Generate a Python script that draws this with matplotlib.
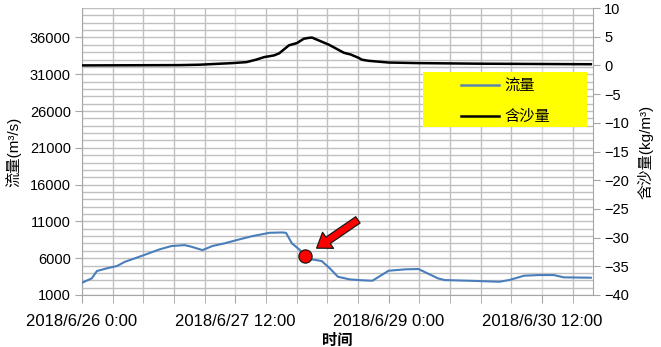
import matplotlib
matplotlib.use('Agg')
import matplotlib.pyplot as plt
from matplotlib.ticker import MultipleLocator, FixedLocator
from matplotlib.patches import Rectangle

# ---- data (hours since 2018/6/26 0:00) ----
flow_hours = [0, 2.3, 3.5, 5.8, 8.2, 10.1, 12.4, 15.2, 18.2, 21.0, 24.1, 25.7, 28.3,
              30.6, 33.4, 36.9, 40.0, 44.0, 47.0, 47.9, 49.3, 51.0, 52.4, 54.0, 56.3,
              58.2, 60.1, 62.8, 65.7, 68.2, 72.0, 76.0, 79.0, 83.6, 85.2, 93.0, 98.0,
              100.3, 103.8, 107.3, 110.8, 113.1, 119.5]
flow_values = [2670, 3260, 4256, 4620, 4934, 5520, 5980, 6560, 7200, 7650, 7780, 7560, 7100,
               7650, 8010, 8550, 9000, 9450, 9500, 9450, 8010, 7200, 6300, 5840, 5610,
               4620, 3480, 3130, 3000, 2940, 4300, 4490, 4530, 3260, 3030, 2900, 2800,
               3030, 3620, 3710, 3710, 3400, 3350]
sed_hours = [0, 22.9, 27.6, 35.3, 38.6, 40.9, 42.8, 45.1, 46.3, 48.6, 50.5, 52.1, 53.3,
             54.0, 55.6, 58.0, 61.5, 63.1, 65.0, 65.7, 67.3, 72.0, 79.0, 93.1, 119.5]
sed_values = [0.0, 0.05, 0.12, 0.4, 0.57, 1.0, 1.45, 1.74, 2.1, 3.5, 3.9, 4.65, 4.8,
              4.85, 4.35, 3.6, 2.2, 1.9, 1.3, 1.0, 0.8, 0.5, 0.4, 0.3, 0.2]
highlight_index = 22
series_names = ['流量', '含沙量']
tick_hours = [0, 36, 72, 108]
tick_labels = ['2018/6/26 0:00', '2018/6/27 12:00', '2018/6/29 0:00', '2018/6/30 12:00']

LAT = ['Liberation Sans', 'Noto Sans CJK SC', 'DejaVu Sans']
CJK = ['Noto Sans CJK SC', 'DejaVu Sans']
plt.rcParams['font.family'] = LAT

W, H = 661, 347
fig = plt.figure(figsize=(W / 100, H / 100), dpi=100)
L, R, T, B = 82, 593, 8, 295
ax = fig.add_axes([L / W, (H - B) / H, (R - L) / W, (B - T) / H])
ax2 = ax.twinx()

spine_c = '#a6a6a6'
# left axis
ax.set_xlim(0, 120)
ax.set_ylim(1000, 40000)
ax.yaxis.set_major_locator(FixedLocator(list(range(1000, 40000, 5000))))
ax.yaxis.set_minor_locator(MultipleLocator(1000))
ax.xaxis.set_major_locator(FixedLocator(tick_hours))
ax.xaxis.set_minor_locator(MultipleLocator(7.2))
ax.set_xticklabels(tick_labels)
ax.grid(which='both', axis='y', color='#c0c0c0', linewidth=1.0)
ax.grid(which='minor', axis='x', color='#c0c0c0', linewidth=1.0)
ax.grid(which='major', axis='x', color='#dadada', linewidth=1.0)
ax.set_axisbelow(True)
for s in ['top', 'right']:
    ax.spines[s].set_visible(False)
for s in ['left', 'bottom']:
    ax.spines[s].set_color(spine_c)
ax.tick_params(axis='y', which='major', direction='out', length=5, color=spine_c,
               labelsize=10.5, pad=3)
ax.tick_params(axis='y', which='minor', length=0)
ax.tick_params(axis='x', which='both', direction='out', length=6, color=spine_c,
               labelsize=12, pad=8)

ax.plot(flow_hours, flow_values, color='#4a7ebb', linewidth=1.5, label=series_names[0],
        zorder=3)

# right axis
ax2.set_ylim(-40, 10)
ax2.yaxis.set_major_locator(MultipleLocator(5))
for s in ['top', 'left', 'bottom']:
    ax2.spines[s].set_visible(False)
ax2.spines['right'].set_color(spine_c)
ax2.tick_params(axis='y', direction='out', length=5, color=spine_c, labelsize=10.5, pad=3)
ax2.plot(sed_hours, sed_values, color='black', linewidth=1.8, label=series_names[1])

# labels
ax.set_ylabel('流量(m³/s)', fontsize=11, family=LAT, labelpad=6)
ax2.set_ylabel('含沙量(kg/m³)', fontsize=11, family=LAT, rotation=90, labelpad=6)
ax.set_xlabel('时间', fontsize=11, family=CJK, fontweight='bold', labelpad=2)

# legend box
ax2.add_patch(Rectangle((0.667, 0.585), 0.321, 0.192, transform=ax2.transAxes,
                        facecolor='#ffff00', edgecolor='none', zorder=4))
h1, = ax.plot([], [], color='#5b87b0', linewidth=1.8)
h2, = ax2.plot([], [], color='black', linewidth=1.8)
leg = ax2.legend([h1, h2], series_names, loc='upper left', bbox_to_anchor=(0.742, 0.76),
                 frameon=False, borderpad=0, borderaxespad=0, handlelength=2.5,
                 handletextpad=0.35, labelspacing=0.92, prop={'family': CJK, 'size': 11})
leg.set_zorder(5)

# highlighted point and arrow
hx, hy = flow_hours[highlight_index], flow_values[highlight_index]
ax.plot([hx], [hy], marker='o', markersize=9.5, markerfacecolor='#ff0000',
        markeredgecolor='#1a1a1a', markeredgewidth=0.9, zorder=6, linestyle='none')
ax.annotate('', xy=(hx, hy), xytext=(38, 26), textcoords='offset points',
            arrowprops=dict(arrowstyle='simple,head_length=1.0,head_width=1.4,tail_width=0.55',
                            mutation_scale=10, facecolor='#ff0000', edgecolor='#1a1a1a',
                            linewidth=0.9, shrinkA=0, shrinkB=10), zorder=6)

fig.savefig('out.png', dpi=100)
